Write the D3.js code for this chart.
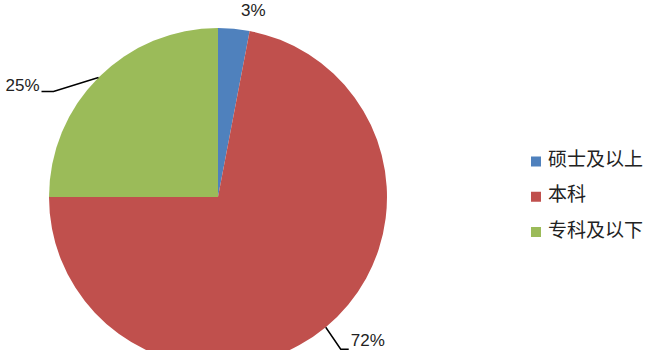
<!DOCTYPE html>
<html><head><meta charset="utf-8">
<script src="https://cdn.jsdelivr.net/npm/d3@7/dist/d3.min.js"></script>
<style>html,body{margin:0;padding:0;background:#fff;}svg{display:block;}</style>
</head><body>
<svg id="chart" width="650" height="350"></svg>
<script>
const categories = ["硕士及以上", "本科", "专科及以下"];
const values = [3, 72, 25];
const labels = ["3%", "72%", "25%"];
const colors = ["#4F81BD", "#C0504D", "#9BBB59"];

const svg = d3.select("#chart");
const cx = 218, cy = 197, R = 169;
const g = svg.append("g").attr("transform", `translate(${cx},${cy})`);

const pie = d3.pie().sort(null).value(d => d);
const arcs = pie(values);
const arc = d3.arc().innerRadius(0).outerRadius(R);

g.selectAll("path.slice").data(arcs).enter().append("path")
  .attr("class", "slice")
  .attr("d", arc)
  .attr("fill", (d, i) => colors[i]);

function polar(a, r) { return [Math.sin(a) * r, -Math.cos(a) * r]; }
const mid = d => (d.startAngle + d.endAngle) / 2;

// leader line configuration (elbow offsets, horizontal tail, text shift)
const leader = [
  null,
  { elbow: [15, 22], tail: 8, dy: -3 },
  { elbow: [-45, 14], tail: -12, dy: -1 }
];
const labelFont = "'Liberation Sans', Arial, sans-serif";

arcs.forEach((d, i) => {
  const p0 = polar(mid(d), R);
  if (leader[i]) {
    const L = leader[i];
    const p1 = [p0[0] + L.elbow[0], p0[1] + L.elbow[1]];
    const p2 = [p1[0] + L.tail, p1[1]];
    g.append("path")
      .attr("d", d3.line()([p0, p1, p2]))
      .attr("fill", "none").attr("stroke", "#000").attr("stroke-width", 1.5);
    g.append("text")
      .attr("x", p2[0] + (L.tail > 0 ? 2 : -2))
      .attr("y", p2[1] + L.dy)
      .attr("text-anchor", L.tail > 0 ? "start" : "end")
      .attr("font-family", labelFont).attr("font-size", 17)
      .attr("fill", "#222")
      .text(labels[i]);
  } else {
    const p = polar(mid(d), R + 14);
    g.append("text")
      .attr("x", p[0] + 18)
      .attr("y", p[1] + 1)
      .attr("text-anchor", "middle")
      .attr("font-family", labelFont).attr("font-size", 17)
      .attr("fill", "#222")
      .text(labels[i]);
  }
});

// legend
const legendY = d3.scalePoint().domain(categories).range([161.5, 232]);
const lg = svg.append("g");
categories.forEach((c, i) => {
  const y = legendY(c);
  lg.append("rect").attr("x", 531).attr("y", y - 5).attr("width", 10).attr("height", 10)
    .attr("fill", colors[i]);
  lg.append("text").attr("x", 548).attr("y", y - 4)
    .attr("dominant-baseline", "central")
    .attr("font-family", "'Noto Sans CJK SC', sans-serif").attr("font-size", 19)
    .attr("fill", "#222")
    .text(c);
});
</script>
</body></html>
